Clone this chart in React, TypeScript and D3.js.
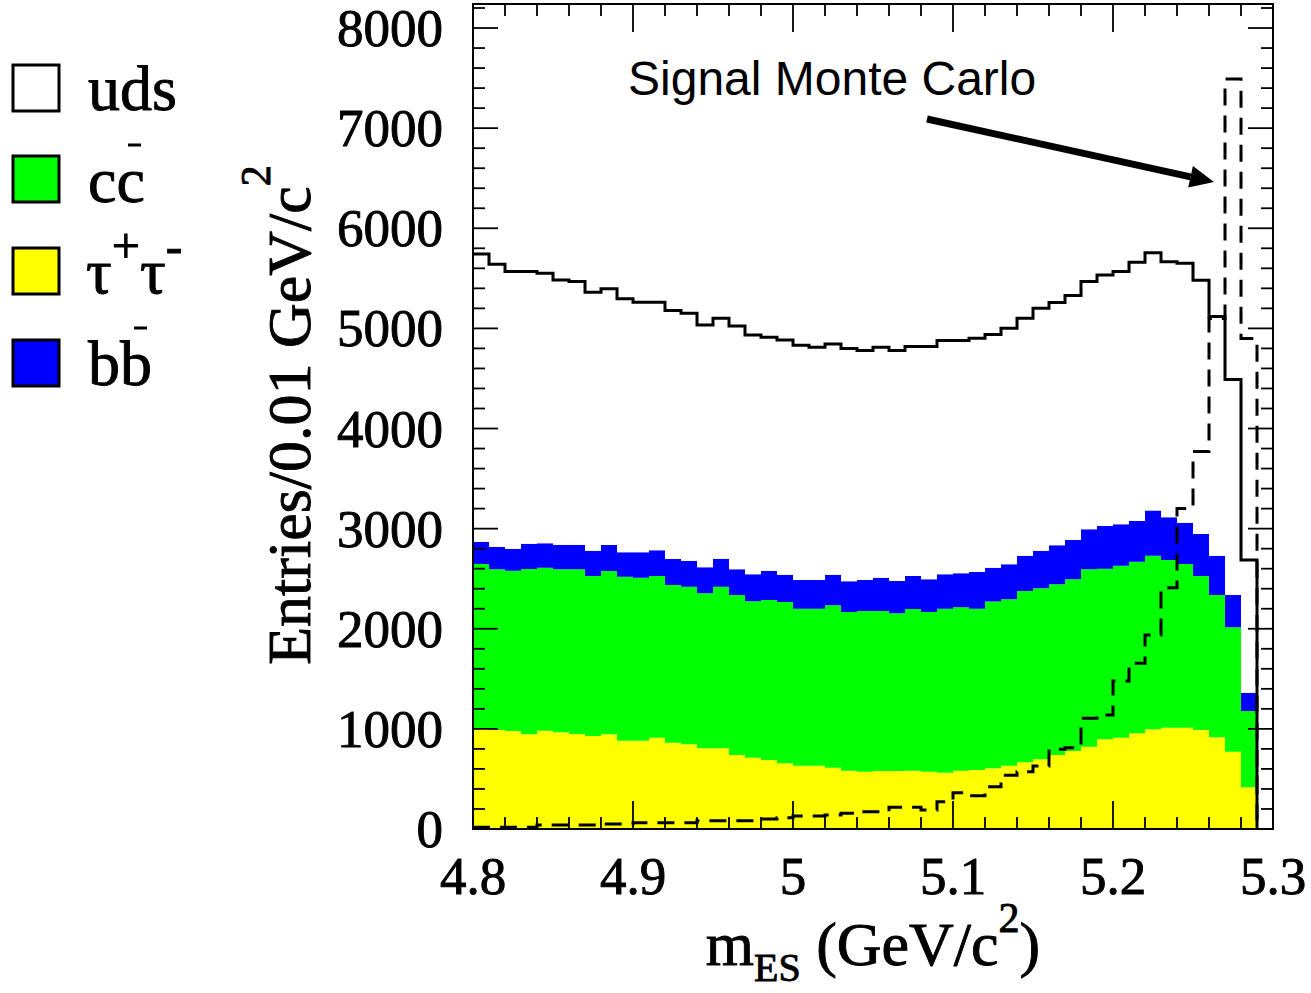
import React from 'react';
import * as d3 from 'd3';

// Lower edges of the 0.01 GeV/c^2 m_ES bins
const binLow = [
  4.8, 4.81, 4.82, 4.83, 4.84, 4.85, 4.86, 4.87, 4.88, 4.89,
  4.9, 4.91, 4.92, 4.93, 4.94, 4.95, 4.96, 4.97, 4.98, 4.99,
  5.0, 5.01, 5.02, 5.03, 5.04, 5.05, 5.06, 5.07, 5.08, 5.09,
  5.1, 5.11, 5.12, 5.13, 5.14, 5.15, 5.16, 5.17, 5.18, 5.19,
  5.2, 5.21, 5.22, 5.23, 5.24, 5.25, 5.26, 5.27, 5.28,
];
const binWidth = 0.01;

// Background components, entries per bin (stacked bottom to top)
const tauTau = [
  1000, 990, 980, 946, 982, 966, 950, 929, 946, 882,
  882, 912, 862, 846, 806, 806, 739, 712, 689, 656,
  632, 632, 612, 582, 573, 579, 579, 582, 573, 562,
  582, 589, 606, 632, 666, 696, 739, 779, 822, 896,
  912, 956, 996, 1012, 1012, 989, 916, 772, 416,
];
const ccbar = [
  1647, 1604, 1600, 1651, 1628, 1628, 1644, 1598, 1631, 1638,
  1628, 1615, 1575, 1574, 1548, 1614, 1598, 1562, 1598, 1611,
  1568, 1568, 1622, 1585, 1605, 1599, 1575, 1616, 1595, 1638,
  1632, 1611, 1665, 1662, 1712, 1708, 1705, 1715, 1772, 1704,
  1718, 1714, 1734, 1675, 1635, 1538, 1421, 1243, 763,
];
const bbbar = [
  223, 223, 220, 253, 245, 246, 246, 253, 260, 244,
  254, 257, 260, 260, 260, 280, 257, 270, 293, 273,
  287, 287, 306, 307, 309, 332, 323, 329, 326, 344,
  340, 367, 339, 350, 352, 376, 390, 393, 400, 427,
  414, 407, 450, 427, 413, 420, 393, 322, 183,
];
const uds = [
  2874, 2824, 2767, 2717, 2696, 2644, 2628, 2581, 2558, 2531,
  2498, 2478, 2481, 2471, 2421, 2401, 2431, 2391, 2332, 2345,
  2345, 2325, 2305, 2324, 2291, 2302, 2301, 2291, 2324, 2334,
  2324, 2335, 2328, 2358, 2371, 2421, 2424, 2441, 2474, 2507,
  2523, 2583, 2576, 2552, 2590, 2533, 2390, 2153, 1325,
];
// Signal Monte Carlo, entries per bin
const signalMC = [
  17, 17, 17, 17, 40, 40, 40, 40, 50, 50,
  63, 63, 63, 63, 83, 83, 83, 83, 100, 113,
  130, 130, 140, 157, 173, 173, 216, 216, 190, 273,
  363, 333, 423, 536, 573, 629, 796, 812, 1106, 1139,
  1478, 1655, 1938, 2410, 3200, 3770, 5100, 7490, 4900,
];

const xTickValues = [4.8, 4.9, 5.0, 5.1, 5.2, 5.3];
const xTickLabels = ['4.8', '4.9', '5', '5.1', '5.2', '5.3'];
const yTickValues = [0, 1000, 2000, 3000, 4000, 5000, 6000, 7000, 8000];

const layerKeys = ['tau', 'cc', 'bb', 'uds'];
const layerColors: Record<string, string> = {
  tau: '#ffff00',
  cc: '#00ff00',
  bb: '#0000ff',
  uds: '#ffffff',
};

const SERIF = "'Liberation Serif', 'DejaVu Serif', serif";
const SANS = "'Liberation Sans', Arial, sans-serif";
// slightly heavier serif glyphs
const serifInk = { fill: '#000', stroke: '#000', strokeWidth: 0.9 };

export default function App() {
  const W = 1311;
  const H = 993;
  const left = 473;
  const right = 1273;
  const top = 4;
  const bottom = 829;

  const x = d3.scaleLinear().domain([4.8, 5.3]).range([left, right]);
  const y = d3.scaleLinear().domain([0, 8240]).range([bottom, top]);

  const rows = binLow.map((lo, i) => ({
    lo,
    tau: tauTau[i],
    cc: ccbar[i],
    bb: bbbar[i],
    uds: uds[i],
  }));
  const stacked = d3.stack<any>().keys(layerKeys)(rows);
  const lastEdge = binLow[binLow.length - 1] + binWidth;

  const area = d3
    .area<[number, number, number]>()
    .x((d) => x(d[0]))
    .y0((d) => y(d[1]))
    .y1((d) => y(d[2]))
    .curve(d3.curveStepAfter);

  const line = d3
    .line<[number, number]>()
    .x((d) => x(d[0]))
    .y((d) => y(d[1]))
    .curve(d3.curveStepAfter);

  const layerPaths = stacked.map((layer) => {
    const pts: [number, number, number][] = layer.map((d, i) => [binLow[i], d[0], d[1]]);
    const last = layer[layer.length - 1];
    pts.push([lastEdge, last[0], last[1]]);
    return { key: layer.key, d: area(pts) || '' };
  });

  const udsLayer = stacked[stacked.length - 1];
  const totalPts: [number, number][] = udsLayer.map((d, i) => [binLow[i], d[1]]);
  totalPts.push([lastEdge, 0]);
  const totalPath = line(totalPts) || '';

  const sigPts: [number, number][] = signalMC.map((v, i) => [binLow[i], v]);
  sigPts.push([lastEdge, 0]);
  const sigPath = line(sigPts) || '';

  const xMinor = d3.range(0, 26).map((i) => ({ v: 4.8 + i * 0.02, major: i % 5 === 0 }));
  const yMinor = d3.range(0, 42).map((i) => ({ v: i * 200, major: i % 5 === 0 }));
  const majLen = 25;
  const minLen = 12;

  // arrow pointing at the signal peak
  const ax0 = 927;
  const ay0 = 119;
  const ax1 = 1214;
  const ay1 = 182;
  const ang = Math.atan2(ay1 - ay0, ax1 - ax0);
  const headLen = 24;
  const headHalf = 11;
  const bx = ax1 - headLen * Math.cos(ang);
  const by = ay1 - headLen * Math.sin(ang);
  const px = -Math.sin(ang);
  const py = Math.cos(ang);

  const legendBoxes = [
    { y: 65, fill: layerColors.uds },
    { y: 156, fill: layerColors.cc },
    { y: 248, fill: layerColors.tau },
    { y: 340, fill: layerColors.bb },
  ];

  return (
    <svg
      width={W}
      height={H}
      viewBox={`0 0 ${W} ${H}`}
      style={{ position: 'absolute', left: 0, top: 0, display: 'block', background: '#fff' }}
    >
      {/* legend */}
      {legendBoxes.map((b, i) => (
        <rect key={i} x={13} y={b.y} width={46} height={46} fill={b.fill} stroke="#000" strokeWidth={3} />
      ))}
      <g fontFamily={SERIF} fontSize={64} {...serifInk}>
        <text x={88} y={110}>uds</text>
        <text x={88} y={202}>cc</text>
        <text x={86} y={293}>
          τ<tspan dy={-30} fontSize={50}>+</tspan>
          <tspan dy={30}>τ</tspan>
          <tspan dy={-30} fontSize={50}>-</tspan>
        </text>
        <text x={88} y={385}>bb</text>
      </g>
      <line x1={128} x2={141} y1={145} y2={145} stroke="#000" strokeWidth={3} />
      <line x1={134} x2={147} y1={328} y2={328} stroke="#000" strokeWidth={3} />

      {/* stacked backgrounds */}
      {layerPaths.map((p) => (
        <path key={p.key} d={p.d} fill={layerColors[p.key]} stroke="none" />
      ))}
      <path d={totalPath} fill="none" stroke="#000" strokeWidth={3} />
      <path d={sigPath} fill="none" stroke="#000" strokeWidth={3} strokeDasharray="17,10" />

      {/* frame and ticks */}
      <rect x={left} y={top} width={right - left} height={bottom - top} fill="none" stroke="#000" strokeWidth={2} />
      <g stroke="#000" strokeWidth={1.8}>
        {xMinor.map((t, i) => {
          const xx = x(t.v);
          const len = t.major ? majLen + 3 : minLen;
          return (
            <g key={`x${i}`}>
              <line x1={xx} x2={xx} y1={bottom} y2={bottom - len} />
              <line x1={xx} x2={xx} y1={top} y2={top + len} />
            </g>
          );
        })}
        {yMinor.map((t, i) => {
          const yy = y(t.v);
          const len = t.major ? majLen : minLen;
          return (
            <g key={`y${i}`}>
              <line x1={left} x2={left + len} y1={yy} y2={yy} />
              <line x1={right} x2={right - len} y1={yy} y2={yy} />
            </g>
          );
        })}
      </g>

      {/* tick labels */}
      <g fontFamily={SERIF} fontSize={53} {...serifInk}>
        {yTickValues.map((v) => (
          <text key={v} x={443} y={y(v) + 18} textAnchor="end">
            {v}
          </text>
        ))}
        {xTickValues.map((v, i) => (
          <text key={v} x={x(v)} y={894} textAnchor="middle">
            {xTickLabels[i]}
          </text>
        ))}
      </g>

      {/* axis titles */}
      <text x={873} y={965} textAnchor="middle" fontFamily={SERIF} fontSize={62} {...serifInk}>
        m<tspan dy={16} fontSize={40}>ES</tspan>
        <tspan dy={-16}> (GeV/c</tspan>
        <tspan dy={-33} fontSize={42}>2</tspan>
        <tspan dy={33}>)</tspan>
      </text>
      <text
        transform="translate(310,415) rotate(-90)"
        textAnchor="middle"
        fontFamily={SERIF}
        fontSize={62}
        {...serifInk}
      >
        Entries/0.01 GeV/c<tspan dy={-40} fontSize={42}>2</tspan>
      </text>

      {/* annotation */}
      <text x={628} y={95} fontFamily={SANS} fontSize={48} fill="#000">
        Signal Monte Carlo
      </text>
      <line x1={ax0} y1={ay0} x2={bx} y2={by} stroke="#000" strokeWidth={7} />
      <polygon
        points={`${ax1},${ay1} ${bx + px * headHalf},${by + py * headHalf} ${bx - px * headHalf},${by - py * headHalf}`}
        fill="#000"
      />
    </svg>
  );
}
